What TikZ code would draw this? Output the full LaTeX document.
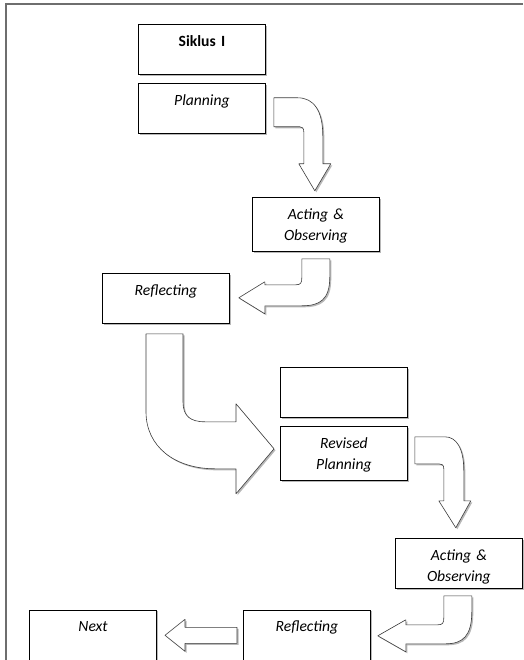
\documentclass[tikz,border=0pt]{standalone}
\usepackage{fontspec}
\setmainfont{Carlito}
\usepackage{tikz}
\usetikzlibrary{positioning,shadows}
\definecolor{SiklusFrame}{HTML}{6E6E6E}
\definecolor{SiklusEdge}{HTML}{3C3C3C}
\definecolor{SiklusShadow}{HTML}{9A9A9A}

\begin{document}
\begin{tikzpicture}[
  x=1pt,y=-1pt,
  box/.style={draw=black,line width=0.8pt,fill=white,inner sep=0pt,text width=127pt,align=center,
    text height=22pt,text depth=28pt,font=\fontsize{15.6}{21.5}\selectfont\itshape,
    drop shadow={shadow xshift=1.5pt,shadow yshift=-1.5pt,fill=SiklusShadow,opacity=0.7}},
  tallbox/.style={box,text depth=32pt},
  blockarrow/.style={draw=SiklusEdge,line width=0.6pt,fill=white,line join=round,
    drop shadow={shadow xshift=1.5pt,shadow yshift=-1.5pt,fill=SiklusShadow,opacity=0.7}},
  frame/.style={draw=SiklusFrame,line width=2pt}
]
  \useasboundingbox (0,0) rectangle (523,660);
  \draw[frame] (6,660) -- (6,4) -- (523,4);

  % first cycle
  \node[box,anchor=north west] (siklus) at (138,24) {\textbf{\textup{Siklus I}}};
  \node[box,below=8pt of siklus] (plan) {Planning};
  \node[tallbox,anchor=north west] (act1) at (252,197) {Acting \&\\Observing};
  \node[box,anchor=north west] (refl1) at (102,273) {Reflecting};

  % second cycle
  \node[box,anchor=north west] (blank) at (280,367) {};
  \node[tallbox,below=8pt of blank] (revplan) {Revised\\Planning};
  \node[box,anchor=north west] (act2) at (395,538) {Acting \&\\Observing};
  \node[box,anchor=north west] (refl2) at (243,609.5) {Reflecting};
  \node[box,left=86pt of refl2] (next) {Next};

  % block arrows
  \begin{scope}[shift={(plan.north east)}]
    \draw[blockarrow] (8,15) -- (32,15) .. controls (48,15) and (57,28) .. (57,53) -- (57,81)
      -- (65,81) -- (49,108) -- (33,81) -- (38,81) -- (38,49)
      .. controls (38,45) and (36,44) .. (34,44) -- (8,44) -- cycle;
  \end{scope}
  \begin{scope}[shift={(act1.south east)}]
    \draw[blockarrow] (-78,7) -- (-50,7) -- (-50,25) .. controls (-50,48) and (-60,54) .. (-78,54)
      -- (-115,54) -- (-115,62) -- (-141,46) -- (-115,30) -- (-115,33) -- (-84,33)
      .. controls (-79,33) and (-78,31) .. (-78,26) -- cycle;
  \end{scope}
  \begin{scope}[shift={(refl1.south west)}]
    \draw[blockarrow] (44,10) -- (81,10) -- (81,78) .. controls (81,92) and (88,98) .. (103,98)
      -- (134,98) -- (134,80) -- (172,125) -- (134,170) -- (134,145) -- (113,145)
      .. controls (73,145) and (44,123) .. (44,88) -- cycle;
  \end{scope}
  \begin{scope}[shift={(revplan.north east)}]
    \draw[blockarrow] (7,11) -- (37,11) .. controls (49,11) and (56,23) .. (56,45) -- (56,75)
      -- (63,75) -- (48,102) -- (31,75) -- (36,75) -- (36,43)
      .. controls (36,39) and (34,38) .. (31,38) -- (7,38) -- cycle;
  \end{scope}
  \begin{scope}[shift={(act2.south east)}]
    \draw[blockarrow] (-79,7) -- (-51,7) -- (-51,23) .. controls (-51,47) and (-60,55) .. (-77,55)
      -- (-117,55) -- (-117,63) -- (-145,47) -- (-117,31) -- (-117,36) -- (-85,36)
      .. controls (-80,36) and (-79,34) .. (-79,29) -- cycle;
  \end{scope}
  \begin{scope}[shift={(refl2.south west)}]
    \draw[blockarrow] (-6,-33) -- (-58,-33) -- (-58,-41) -- (-78,-25) -- (-58,-9) -- (-58,-17)
      -- (-6,-17) -- cycle;
  \end{scope}
\end{tikzpicture}
\end{document}
